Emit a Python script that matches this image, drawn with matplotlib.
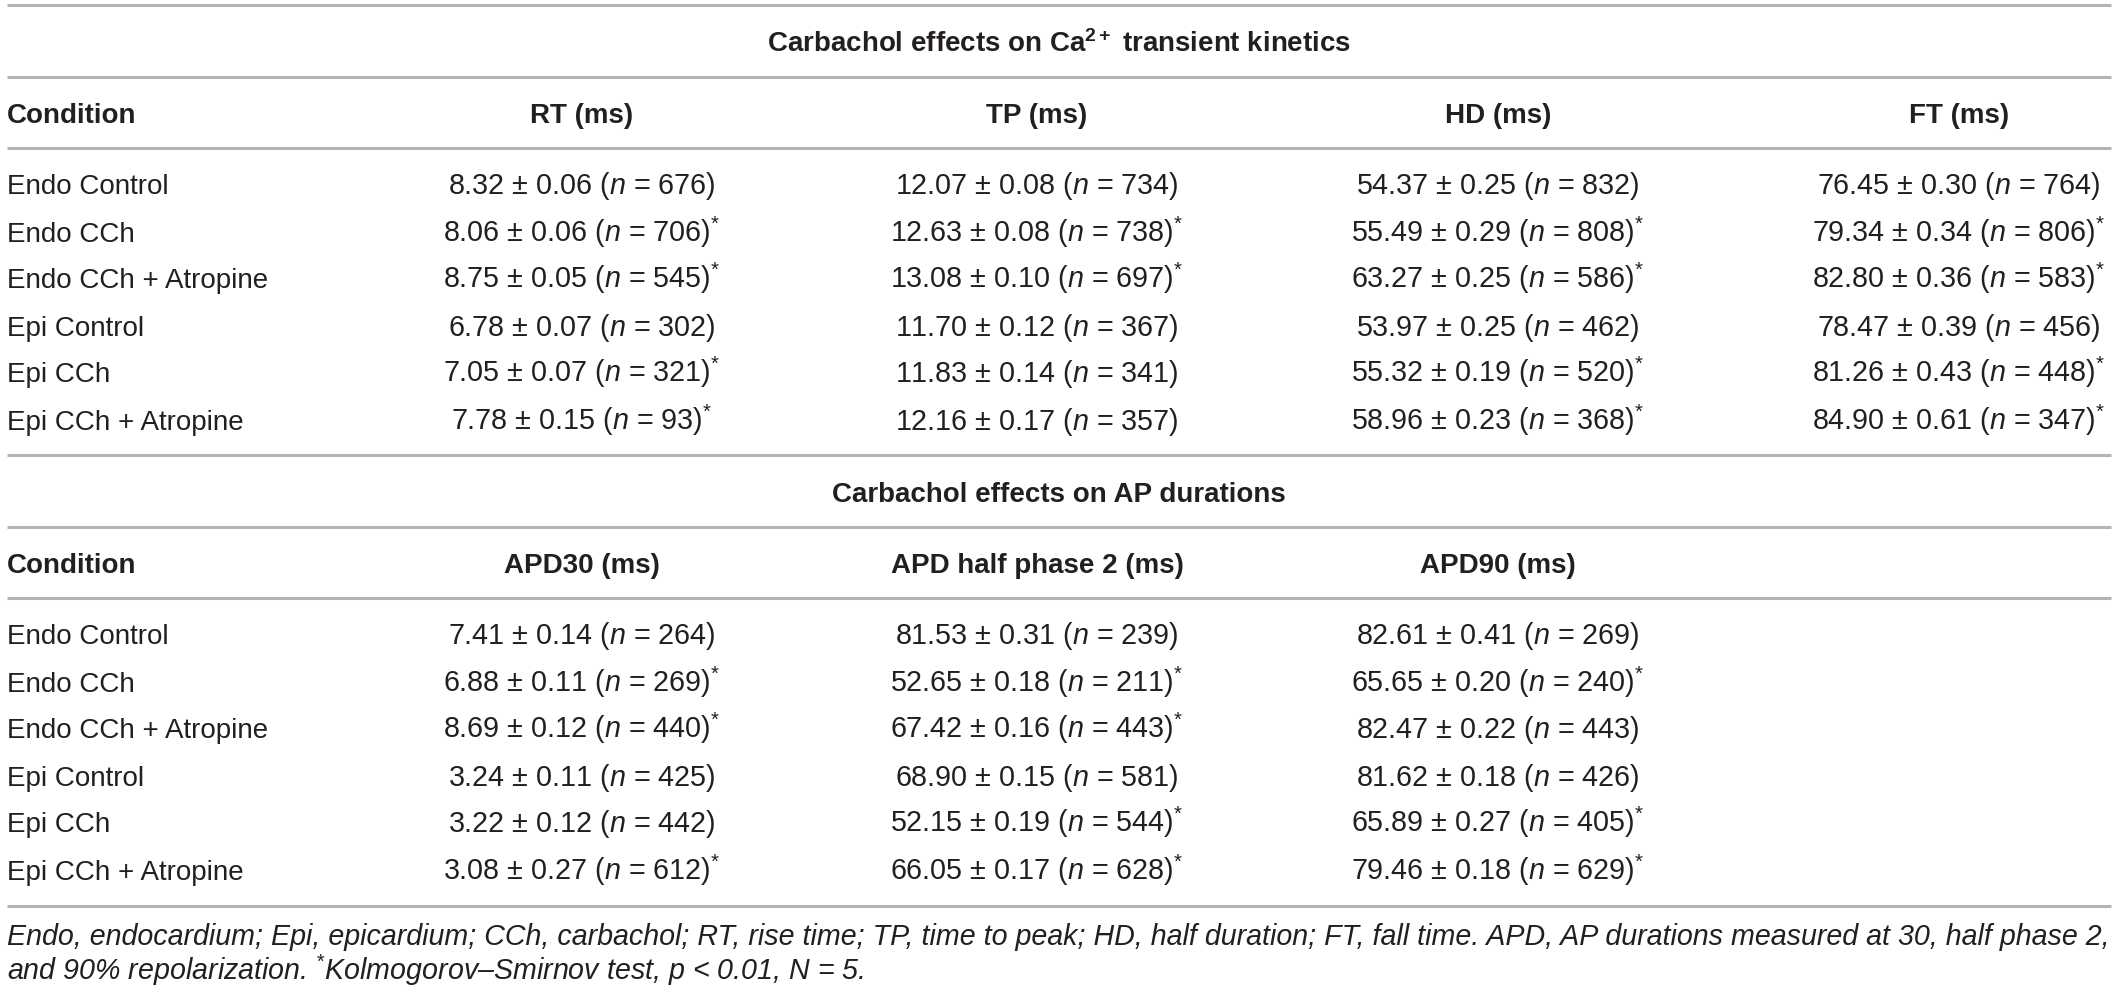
import matplotlib
matplotlib.use("Agg")
import matplotlib.pyplot as plt

plt.rcParams['font.family'] = ['Liberation Sans', 'DejaVu Sans']
plt.rcParams['mathtext.fontset'] = 'custom'
plt.rcParams['mathtext.rm'] = 'Liberation Sans'
plt.rcParams['mathtext.it'] = 'Liberation Sans:italic'
plt.rcParams['mathtext.bf'] = 'Liberation Sans:bold'
plt.rcParams['mathtext.default'] = 'regular'

# data
conditions = ["Endo Control", "Endo CCh", "Endo CCh + Atropine",
              "Epi Control", "Epi CCh", "Epi CCh + Atropine"]

# Ca2+ transient kinetics
ca_cols = ["RT (ms)", "TP (ms)", "HD (ms)", "FT (ms)"]
rt_mean = [8.32, 8.06, 8.75, 6.78, 7.05, 7.78]
rt_sem = [0.06, 0.06, 0.05, 0.07, 0.07, 0.15]
rt_n = [676, 706, 545, 302, 321, 93]
rt_sig = [0, 1, 1, 0, 1, 1]
tp_mean = [12.07, 12.63, 13.08, 11.70, 11.83, 12.16]
tp_sem = [0.08, 0.08, 0.10, 0.12, 0.14, 0.17]
tp_n = [734, 738, 697, 367, 341, 357]
tp_sig = [0, 1, 1, 0, 0, 0]
hd_mean = [54.37, 55.49, 63.27, 53.97, 55.32, 58.96]
hd_sem = [0.25, 0.29, 0.25, 0.25, 0.19, 0.23]
hd_n = [832, 808, 586, 462, 520, 368]
hd_sig = [0, 1, 1, 0, 1, 1]
ft_mean = [76.45, 79.34, 82.80, 78.47, 81.26, 84.90]
ft_sem = [0.30, 0.34, 0.36, 0.39, 0.43, 0.61]
ft_n = [764, 806, 583, 456, 448, 347]
ft_sig = [0, 1, 1, 0, 1, 1]

# AP durations
ap_cols = ["APD30 (ms)", "APD half phase 2 (ms)", "APD90 (ms)"]
apd30_mean = [7.41, 6.88, 8.69, 3.24, 3.22, 3.08]
apd30_sem = [0.14, 0.11, 0.12, 0.11, 0.12, 0.27]
apd30_n = [264, 269, 440, 425, 442, 612]
apd30_sig = [0, 1, 1, 0, 0, 1]
apdh_mean = [81.53, 52.65, 67.42, 68.90, 52.15, 66.05]
apdh_sem = [0.31, 0.18, 0.16, 0.15, 0.19, 0.17]
apdh_n = [239, 211, 443, 581, 544, 628]
apdh_sig = [0, 1, 1, 0, 1, 1]
apd90_mean = [82.61, 65.65, 82.47, 81.62, 65.89, 79.46]
apd90_sem = [0.41, 0.20, 0.22, 0.18, 0.27, 0.18]
apd90_n = [269, 240, 443, 426, 405, 629]
apd90_sig = [0, 1, 0, 0, 1, 1]

footnote = ["Endo, endocardium; Epi, epicardium; CCh, carbachol; RT, rise time; TP, time to peak; "
            "HD, half duration; FT, fall time. APD, AP durations measured at 30, half phase 2,",
            "and 90% repolarization. $^{*}$Kolmogorov\u2013Smirnov test, p < 0.01, N = 5."]


def cell(m, s, n, sig):
    txt = f"{m:.2f} \u00b1 {s:.2f} ($\\mathit{{n}}$ = {n})"
    if sig:
        txt += "$^{*}$"
    return txt


W, H = 2118, 992
fig = plt.figure(figsize=(W / 100, H / 100), dpi=100)
ax = fig.add_axes([0, 0, 1, 1])
ax.set_xlim(0, W)
ax.set_ylim(H, 0)
ax.axis('off')

txt_c = '#231f20'
line_c = '#b4b4b4'
fs = 20
fs_cell = 20.7
col_x = [582, 1037, 1498, 1959]
x0, x1 = 7, 2111


def hline(y):
    ax.plot([x0, x1], [y, y], color=line_c, lw=2.2, solid_capstyle='butt')


def block(y_top, title, cols, columns, row0):
    hline(y_top)
    ax.text(1059, y_top + 47, title, ha='center', va='baseline',
            fontsize=fs, fontweight='bold', color=txt_c)
    hline(y_top + 72)
    ax.text(x0, y_top + 118, "Condition", ha='left', va='baseline',
            fontsize=fs, fontweight='bold', color=txt_c)
    for cx, name in zip(col_x, cols):
        ax.text(cx, y_top + 118, name, ha='center', va='baseline',
                fontsize=fs, fontweight='bold', color=txt_c)
    hline(y_top + 143)
    for i, cond in enumerate(conditions):
        yb = row0 + 47 * i + 9.5
        ax.text(x0, yb, cond, ha='left', va='baseline', fontsize=fs, color=txt_c)
        for cx, (m, s, n, sig) in zip(col_x, columns):
            ax.text(cx, yb, cell(m[i], s[i], n[i], sig[i]), ha='center',
                    va='baseline', fontsize=fs_cell, color=txt_c)


block(5, "Carbachol effects on Ca$^{2+}$ transient kinetics", ca_cols,
      [(rt_mean, rt_sem, rt_n, rt_sig), (tp_mean, tp_sem, tp_n, tp_sig),
       (hd_mean, hd_sem, hd_n, hd_sig), (ft_mean, ft_sem, ft_n, ft_sig)], 185)

block(455, "Carbachol effects on AP durations", ap_cols,
      [(apd30_mean, apd30_sem, apd30_n, apd30_sig),
       (apdh_mean, apdh_sem, apdh_n, apdh_sig),
       (apd90_mean, apd90_sem, apd90_n, apd90_sig)], 635)

hline(906)
ax.text(x0, 945, footnote[0], ha='left', va='baseline', fontsize=20.6,
        style='italic', color=txt_c)
ax.text(x0, 980, footnote[1], ha='left', va='baseline', fontsize=20.6,
        style='italic', color=txt_c)

fig.savefig("out.png", dpi=100)
